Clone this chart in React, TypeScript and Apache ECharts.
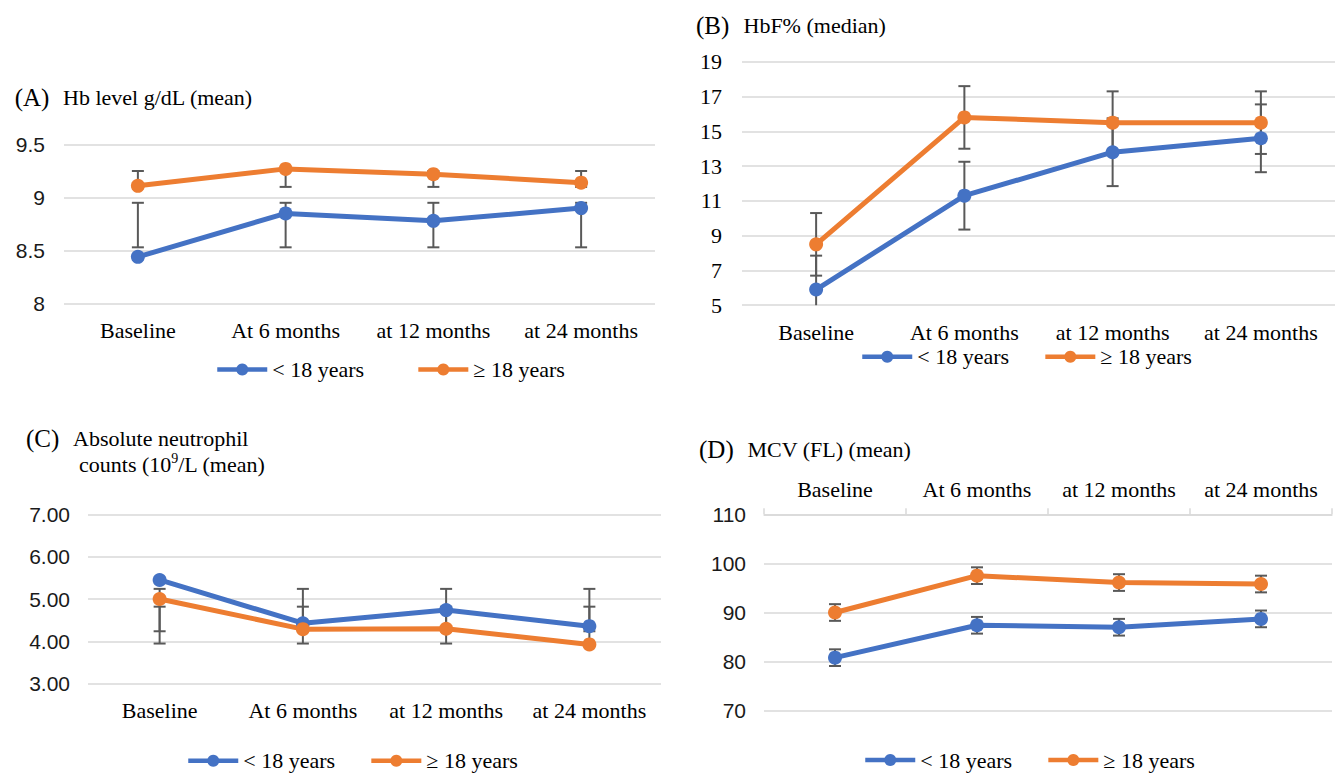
import React, { useEffect, useRef } from "react";
import * as echarts from "echarts";

const categories = ["Baseline", "At 6 months", "at 12 months", "at 24 months"];
const seriesNames = ["< 18 years", "≥ 18 years"];

// (A) Hb level g/dL (mean)
const hbUnder18 = [8.44, 8.85, 8.78, 8.9];
const hbOver18 = [9.11, 9.27, 9.22, 9.14];
const hbUnder18Low = [8.53, 8.53, 8.53, 8.53];
const hbUnder18High = [8.95, 8.95, 8.95, 8.95];
const hbOver18Low = [9.1, 9.1, 9.1, 9.1];
const hbOver18High = [9.25, 9.25, 9.25, 9.25];

// (B) HbF% (median)
const hbfUnder18 = [5.9, 11.3, 13.8, 14.6];
const hbfOver18 = [8.5, 15.8, 15.5, 15.5];
const hbfUnder18Err = [1.95, 1.95, 1.95, 1.95];
const hbfOver18Err = [1.8, 1.8, 1.8, 1.8];

// (C) Absolute neutrophil counts (10^9/L) (mean)
const ancUnder18 = [5.45, 4.43, 4.74, 4.36];
const ancOver18 = [5.0, 4.29, 4.3, 3.93];
const ancUnder18Low = [4.24, 4.24, 4.24, 4.24];
const ancUnder18High = [4.82, 4.82, 4.82, 4.82];
const ancOver18Low = [3.95, 3.95, 3.95, 3.95];
const ancOver18High = [5.24, 5.24, 5.24, 5.24];

// (D) MCV (FL) (mean)
const mcvUnder18 = [80.8, 87.4, 87.0, 88.7];
const mcvOver18 = [90.0, 97.5, 96.1, 95.8];
const mcvUnder18Err = [1.7, 1.7, 1.7, 1.7];
const mcvOver18Err = [1.7, 1.7, 1.7, 1.7];

// y-axis ticks
const yTicksA = { min: 8, max: 9.5, interval: 0.5 };
const yTicksB = { min: 5, max: 19, interval: 2 };
const yTicksC = { min: 3, max: 7, interval: 1 };
const yTicksD = { min: 70, max: 110, interval: 10 };

const BLUE = "#4472C4";
const ORANGE = "#ED7D31";
const GRID = "#D9D9D9";
const ERR = "#595959";
const SERIF = "'Liberation Serif', 'Times New Roman', serif";
const SANS = "'Liberation Sans', Arial, sans-serif";

function errorSeries(idx: number, lows: number[], highs: number[], yMin: number, yMax: number) {
  return {
    type: "custom",
    xAxisIndex: idx,
    yAxisIndex: idx,
    z: 1,
    silent: true,
    data: categories.map((_, i) => [i, lows[i], highs[i]]),
    encode: { x: 0, y: [1, 2] },
    renderItem: (_params: any, api: any) => {
      const x = api.value(0);
      const lo = api.value(1);
      const hi = api.value(2);
      const loC = Math.max(lo, yMin);
      const hiC = Math.min(hi, yMax);
      const top = api.coord([x, hiC]);
      const bot = api.coord([x, loC]);
      const half = 6;
      const st = { stroke: ERR, lineWidth: 2 };
      const children: any[] = [
        { type: "line", shape: { x1: top[0], y1: top[1], x2: bot[0], y2: bot[1] }, style: st },
      ];
      if (hi <= yMax)
        children.push({ type: "line", shape: { x1: top[0] - half, y1: top[1], x2: top[0] + half, y2: top[1] }, style: st });
      if (lo >= yMin)
        children.push({ type: "line", shape: { x1: bot[0] - half, y1: bot[1], x2: bot[0] + half, y2: bot[1] }, style: st });
      return { type: "group", children };
    },
  };
}

function lineSeries(idx: number, name: string, color: string, values: number[]) {
  return {
    type: "line",
    name,
    xAxisIndex: idx,
    yAxisIndex: idx,
    z: 3,
    data: values,
    symbol: "circle",
    symbolSize: 14,
    lineStyle: { color, width: 5 },
    itemStyle: { color },
    emphasis: { disabled: true },
  };
}

function legend(left: number, top: number, gap: number) {
  return {
    left,
    top,
    padding: 0,
    itemGap: gap,
    itemWidth: 50,
    itemHeight: 15,
    data: seriesNames,
    lineStyle: { width: 4.5 },
    textStyle: { fontFamily: SERIF, fontSize: 22, color: "#000", lineHeight: 22 },
    selectedMode: false,
  };
}

export default function App() {
  const ref = useRef<HTMLDivElement>(null);
  useEffect(() => {
    if (!ref.current) return;
    const chart = echarts.init(ref.current, undefined, { renderer: "svg" });

    const grids = [
      { left: 64, top: 144.5, width: 591, height: 159 },
      { left: 742, top: 61.8, width: 603, height: 243.4 },
      { left: 88, top: 514.3, width: 573, height: 169.5 },
      { left: 764, top: 514.3, width: 568, height: 196.4 },
    ];
    const xMargins = [16, 16, 16, 14];
    const xAxis = grids.map((_, i) => ({
      type: "category",
      gridIndex: i,
      data: categories,
      position: i === 3 ? "top" : "bottom",
      axisLine: { show: i === 3, lineStyle: { color: GRID, width: 1.5 } },
      axisTick: { show: i === 3, length: 6, lineStyle: { color: GRID, width: 1.5 } },
      axisLabel: {
        fontFamily: SERIF,
        fontSize: 22,
        lineHeight: 22,
        color: "#000",
        margin: xMargins[i],
        interval: 0,
      },
    }));
    const ticks = [yTicksA, yTicksB, yTicksC, yTicksD];
    const yMargins = [19, 20, 18, 18];
    const yAxis = ticks.map((t, i) => ({
      type: "value",
      gridIndex: i,
      min: t.min,
      max: t.max,
      interval: t.interval,
      axisLine: { show: false },
      axisTick: { show: false },
      splitLine: { show: true, lineStyle: { color: GRID, width: 1.5 } },
      axisLabel: {
        fontFamily: i === 1 ? SERIF : SANS,
        fontSize: i === 1 ? 22 : 21,
        color: i === 1 ? "#000" : "#1a1a1a",
        margin: yMargins[i],
        formatter: i === 2 ? (v: number) => v.toFixed(2) : (v: number) => String(v),
      },
    }));

    const series: any[] = [
      errorSeries(0, hbUnder18Low, hbUnder18High, yTicksA.min, yTicksA.max),
      errorSeries(0, hbOver18Low, hbOver18High, yTicksA.min, yTicksA.max),
      lineSeries(0, seriesNames[0], BLUE, hbUnder18),
      lineSeries(0, seriesNames[1], ORANGE, hbOver18),

      errorSeries(1, hbfUnder18.map((v, i) => v - hbfUnder18Err[i]), hbfUnder18.map((v, i) => v + hbfUnder18Err[i]), yTicksB.min, yTicksB.max),
      errorSeries(1, hbfOver18.map((v, i) => v - hbfOver18Err[i]), hbfOver18.map((v, i) => v + hbfOver18Err[i]), yTicksB.min, yTicksB.max),
      lineSeries(1, seriesNames[0], BLUE, hbfUnder18),
      lineSeries(1, seriesNames[1], ORANGE, hbfOver18),

      errorSeries(2, ancUnder18Low, ancUnder18High, yTicksC.min, yTicksC.max),
      errorSeries(2, ancOver18Low, ancOver18High, yTicksC.min, yTicksC.max),
      lineSeries(2, seriesNames[0], BLUE, ancUnder18),
      lineSeries(2, seriesNames[1], ORANGE, ancOver18),

      errorSeries(3, mcvUnder18.map((v, i) => v - mcvUnder18Err[i]), mcvUnder18.map((v, i) => v + mcvUnder18Err[i]), yTicksD.min, yTicksD.max),
      errorSeries(3, mcvOver18.map((v, i) => v - mcvOver18Err[i]), mcvOver18.map((v, i) => v + mcvOver18Err[i]), yTicksD.min, yTicksD.max),
      lineSeries(3, seriesNames[0], BLUE, mcvUnder18),
      lineSeries(3, seriesNames[1], ORANGE, mcvOver18),
    ];

    const t = (text: string, x: number, y: number, size: number) => ({
      type: "text",
      x,
      y,
      silent: true,
      style: { text, fontFamily: SERIF, fontSize: size, fill: "#000", verticalAlign: "middle" },
    });

    const graphic = [
      t("(A)", 14.7, 97, 25),
      t("Hb level g/dL (mean)", 63, 97.5, 22),
      t("(B)", 696, 25, 25),
      t("HbF% (median)", 743.5, 25.5, 22),
      t("(C)", 26, 438, 25),
      t("Absolute neutrophil", 73, 438.5, 22),
      {
        type: "text",
        x: 79,
        y: 463,
        silent: true,
        style: {
          text: "{a|counts (10}{s|9}{a|/L (mean)}",
          fill: "#000",
          verticalAlign: "middle",
          rich: {
            a: { fontFamily: SERIF, fontSize: 22, lineHeight: 24, verticalAlign: "bottom" },
            s: { fontFamily: SERIF, fontSize: 14, lineHeight: 24, verticalAlign: "top" },
          },
        },
      },
      t("(D)", 699, 449, 25),
      t("MCV (FL) (mean)", 747.5, 449.5, 22),
    ];

    chart.setOption({
      animation: false,
      backgroundColor: "#fff",
      grid: grids,
      xAxis,
      yAxis,
      legend: [legend(215, 358.5, 52), legend(860, 345.7, 34), legend(186, 749.7, 34), legend(863, 749, 34)],
      series,
      graphic,
    });
    return () => chart.dispose();
  }, []);
  return <div ref={ref} style={{ position: "absolute", left: 0, top: 0, width: 1335, height: 773 }} />;
}
